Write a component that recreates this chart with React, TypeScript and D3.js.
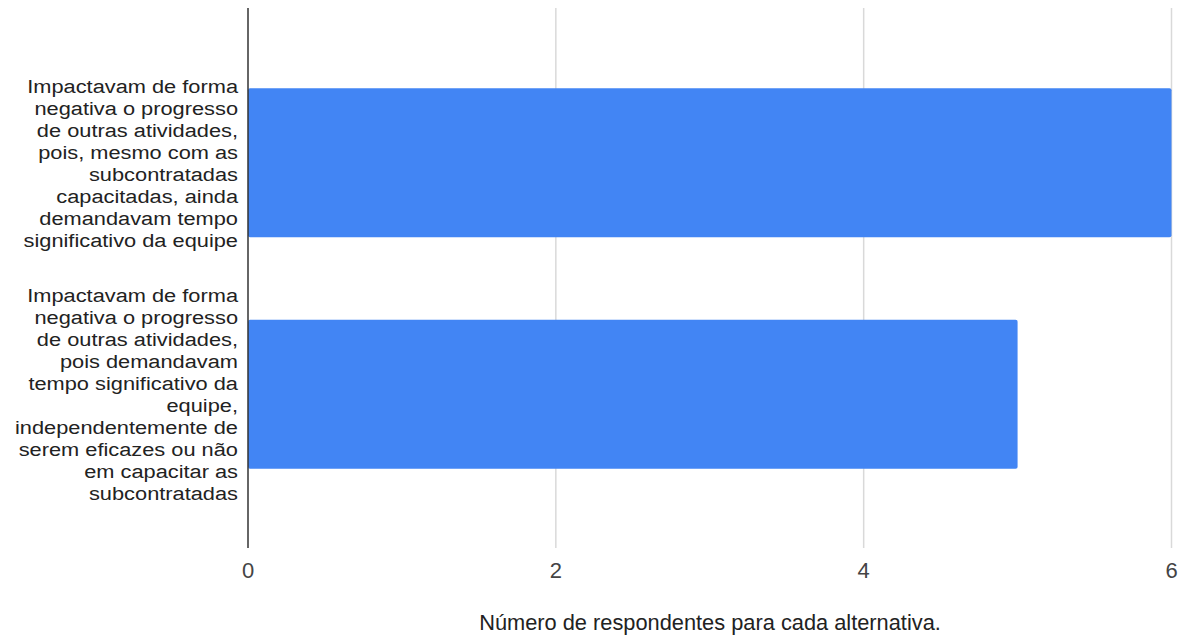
import React from "react";
import * as d3 from "d3";

// Answer categories, each split into its display lines
const categories: string[] = [
  "Impactavam de forma negativa o progresso de outras atividades, pois, mesmo com as subcontratadas capacitadas, ainda demandavam tempo significativo da equipe",
  "Impactavam de forma negativa o progresso de outras atividades, pois demandavam tempo significativo da equipe, independentemente de serem eficazes ou não em capacitar as subcontratadas",
];
const categoryLines: string[][] = [
  [
    "Impactavam de forma",
    "negativa o progresso",
    "de outras atividades,",
    "pois, mesmo com as",
    "subcontratadas",
    "capacitadas, ainda",
    "demandavam tempo",
    "significativo da equipe",
  ],
  [
    "Impactavam de forma",
    "negativa o progresso",
    "de outras atividades,",
    "pois demandavam",
    "tempo significativo da",
    "equipe,",
    "independentemente de",
    "serem eficazes ou não",
    "em capacitar as",
    "subcontratadas",
  ],
];
const respondents: number[] = [6, 5];
const xTicks: number[] = [0, 2, 4, 6];
const xAxisTitle = "Número de respondentes para cada alternativa.";

const W = 1185;
const H = 635;
const FONT = "Arial, 'Liberation Sans', sans-serif";

export default function App() {
  const plotLeft = 248;
  const plotRight = 1171.5;
  const plotTop = 8;
  const plotBottom = 548;

  const x = d3.scaleLinear().domain([0, 6]).range([plotLeft, plotRight]);
  const y = d3
    .scaleBand<string>()
    .domain(categories)
    .range([47, 510])
    .paddingInner(0.356)
    .paddingOuter(0.178);

  const lineH = 22;
  const barColor = "#4285F4";
  const labelRight = 238;

  return (
    <svg
      width={W}
      height={H}
      viewBox={`0 0 ${W} ${H}`}
      style={{ position: "absolute", left: 0, top: 0, background: "#fff" }}
      fontFamily={FONT}
    >
      {/* vertical gridlines */}
      {xTicks
        .filter((t) => t !== 0)
        .map((t) => (
          <line
            key={`g${t}`}
            x1={x(t)}
            x2={x(t)}
            y1={plotTop}
            y2={plotBottom}
            stroke="#d9d9d9"
            strokeWidth={1.5}
          />
        ))}

      {/* bars */}
      {categories.map((c, i) => {
        const y0 = y(c) as number;
        const bw = y.bandwidth();
        return (
          <rect
            key={`b${i}`}
            x={x(0)}
            y={y0}
            width={x(respondents[i]) - x(0)}
            height={bw}
            rx={2}
            ry={2}
            fill={barColor}
          />
        );
      })}

      {/* baseline at zero */}
      <line
        x1={x(0)}
        x2={x(0)}
        y1={plotTop}
        y2={plotBottom}
        stroke="#333"
        strokeWidth={1.5}
      />

      {/* category labels, wrapped and right-aligned beside the axis */}
      <g transform={`translate(${labelRight},0) scale(1.136,1)`}>
        {categories.map((c, i) => {
          const lines = categoryLines[i];
          const cy = (y(c) as number) + y.bandwidth() / 2;
          const firstY = cy - ((lines.length - 1) * lineH) / 2;
          return (
            <text key={`l${i}`} textAnchor="end" fontSize={19.2} fill="#222">
              {lines.map((ln, j) => (
                <tspan
                  key={j}
                  x={0}
                  y={firstY + j * lineH}
                  dominantBaseline="central"
                >
                  {ln}
                </tspan>
              ))}
            </text>
          );
        })}
      </g>

      {/* x tick labels */}
      {xTicks.map((t) => (
        <text
          key={`t${t}`}
          x={x(t)}
          y={578}
          textAnchor="middle"
          fontSize={22}
          fill="#444"
        >
          {t}
        </text>
      ))}

      {/* axis title */}
      <text
        x={710}
        y={629.5}
        textAnchor="middle"
        fontSize={21.8}
        fill="#222"
      >
        {xAxisTitle}
      </text>
    </svg>
  );
}
